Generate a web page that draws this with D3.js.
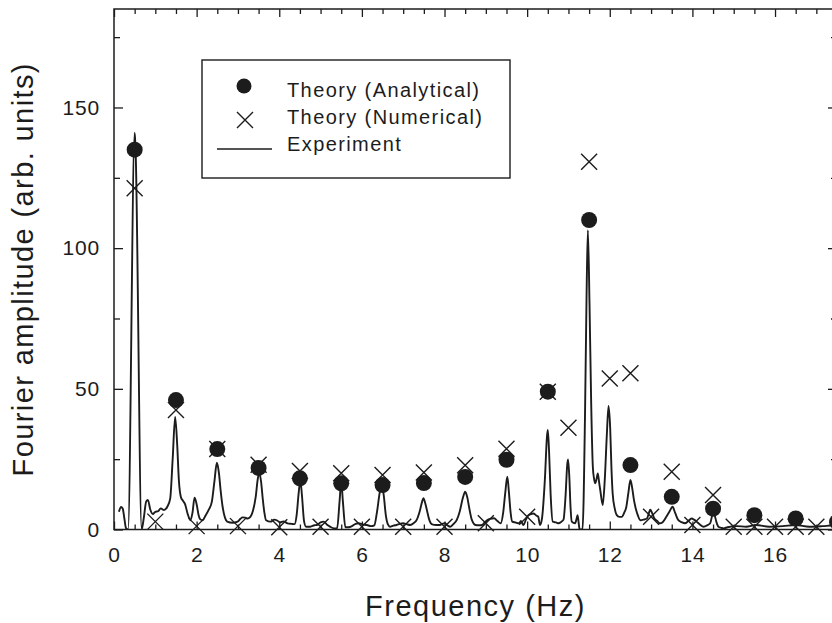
<!DOCTYPE html>
<html>
<head>
<meta charset="utf-8">
<script src="https://cdn.jsdelivr.net/npm/d3@7"></script>
<style>
  html, body { margin: 0; padding: 0; background: #fff; }
  svg { display: block; font-family: "Liberation Sans", Arial, Helvetica, sans-serif; }
</style>
</head>
<body>
<svg id="chart" width="832" height="623"></svg>
<script>
// ---------------- data ----------------
const analyticalFreq = [0.5, 1.5, 2.5, 3.5, 4.5, 5.5, 6.5, 7.5, 8.5, 9.5, 10.5, 11.5, 12.5, 13.5, 14.5, 15.5, 16.5, 17.5];
const analyticalAmp  = [135, 46, 28.6, 21.9, 18.2, 16.4, 15.8, 16.5, 18.7, 24.8, 49, 110, 22.9, 11.6, 7.4, 5.1, 3.9, 2.7];

const numericalFreq = [0.5, 1, 1.5, 2, 2.5, 3, 3.5, 4, 4.5, 5, 5.5, 6, 6.5, 7, 7.5, 8, 8.5, 9, 9.5, 10, 10.5, 11, 11.5, 12, 12.5, 13, 13.5, 14, 14.5, 15, 15.5, 16, 16.5, 17];
const numericalAmp  = [121.3, 2.8, 42.5, 1.2, 28.6, 1.2, 23, 0.8, 20.8, 1, 20, 1, 19.4, 1, 20.3, 1, 22.8, 2.2, 28.7, 4.5, 49, 36.2, 130.7, 53.7, 55.5, 4.5, 20.5, 1.6, 12.3, 1, 1, 1, 1, 1];

const expFreq = [0.12, 0.17, 0.21, 0.25, 0.29, 0.34, 0.50, 0.52, 0.67, 0.72, 0.78, 0.82, 0.88, 0.94, 1.00, 1.07, 1.13, 1.21, 1.29, 1.36, 1.42, 1.48, 1.53, 1.57, 1.62, 1.67, 1.72, 1.78, 1.85, 1.90, 1.95, 2.00, 2.05, 2.09, 2.14, 2.22, 2.30, 2.37, 2.43, 2.49, 2.54, 2.58, 2.63, 2.68, 2.74, 2.87, 2.99, 3.06, 3.11, 3.18, 3.23, 3.30, 3.36, 3.43, 3.48, 3.52, 3.56, 3.60, 3.64, 3.68, 3.79, 3.88, 3.95, 4.02, 4.10, 4.20, 4.30, 4.37, 4.42, 4.47, 4.51, 4.55, 4.60, 4.65, 4.75, 4.85, 4.91, 5.00, 5.07, 5.15, 5.23, 5.33, 5.40, 5.46, 5.50, 5.54, 5.60, 5.68, 5.76, 5.85, 5.92, 6.02, 6.12, 6.22, 6.30, 6.36, 6.43, 6.48, 6.53, 6.58, 6.63, 6.68, 6.76, 6.84, 6.92, 7.00, 7.08, 7.17, 7.25, 7.33, 7.40, 7.46, 7.49, 7.53, 7.58, 7.63, 7.70, 7.80, 7.89, 7.96, 8.01, 8.07, 8.14, 8.22, 8.30, 8.37, 8.44, 8.50, 8.55, 8.60, 8.66, 8.75, 8.83, 8.91, 8.97, 9.03, 9.10, 9.20, 9.28, 9.36, 9.42, 9.47, 9.52, 9.56, 9.60, 9.64, 9.72, 9.80, 9.85, 9.91, 9.97, 10.03, 10.10, 10.15, 10.22, 10.27, 10.31, 10.36, 10.43, 10.48, 10.50, 10.53, 10.57, 10.62, 10.70, 10.76, 10.83, 10.88, 10.93, 10.97, 10.99, 11.02, 11.05, 11.08, 11.16, 11.20, 11.22, 11.25, 11.27, 11.34, 11.40, 11.44, 11.47, 11.51, 11.55, 11.59, 11.62, 11.65, 11.68, 11.71, 11.74, 11.77, 11.83, 11.88, 11.93, 11.97, 12.01, 12.04, 12.07, 12.12, 12.17, 12.23, 12.29, 12.35, 12.40, 12.45, 12.50, 12.54, 12.58, 12.62, 12.68, 12.74, 12.82, 12.90, 12.95, 12.98, 13.02, 13.08, 13.15, 13.21, 13.28, 13.37, 13.45, 13.52, 13.58, 13.66, 13.74, 13.82, 13.90, 13.98, 14.04, 14.10, 14.18, 14.27, 14.36, 14.43, 14.47, 14.51, 14.55, 14.60, 14.63, 14.70, 14.75, 14.85, 15.07, 15.30, 15.54, 15.86, 16.19, 16.50, 16.83, 17.15, 17.35, 17.50];
const expAmp  = [6.3, 8.0, 7.5, 4.0, 0.5, 0, 141, 136, 0, 4, 10, 10.5, 7, 5.5, 6.3, 6.5, 7.5, 6.9, 8.1, 11, 25, 40, 30, 17.6, 11.5, 10.2, 9, 5.7, 3.3, 6, 11.3, 9, 5, 3.6, 3.3, 5.1, 7.2, 10, 17, 23.7, 20, 14, 8, 4.5, 2.8, 2.4, 2.8, 3.8, 4.3, 4.2, 3.9, 4.5, 6.5, 11.6, 18, 20, 17, 11, 6, 3.3, 2.8, 3.5, 3.2, 2.5, 2.9, 2.2, 2.0, 1.9, 5, 13, 17.5, 12, 3, 1, 1.0, 1.5, 1.6, 2.5, 2.8, 1.8, 1, 0.4, 0.4, 10, 17, 10, 0.8, 0.8, 1.2, 2, 2.2, 1.8, 1.6, 1.2, 1.5, 5.7, 13, 16.5, 12, 5, 1.8, 1, 1.4, 1.6, 2, 2.2, 1.9, 1.6, 2.2, 3.5, 6.5, 10, 11.1, 9.5, 6.5, 3.5, 1.8, 1.6, 1.6, 2.1, 2.2, 1.5, 1, 2, 3.5, 6.5, 11, 13.4, 11.5, 7.5, 3.5, 1.6, 1.5, 1.6, 2.5, 3.3, 3.8, 4, 3, 2.2, 6, 13, 18.8, 13, 6, 2.8, 2.5, 2.2, 3, 1.6, 3.5, 5.1, 5.5, 5.7, 5, 4.5, 1.6, 4, 18, 33, 35.4, 28, 12, 2.8, 2.5, 2.2, 2.8, 3.5, 12, 23, 24.9, 19, 8, 2.8, 2.2, 4, 5.1, 2, 0, 0, 40, 85, 106.4, 80, 45, 22.3, 18, 16.4, 18, 19.9, 17, 14, 8.7, 18, 34, 43.9, 36, 22, 12.8, 7.5, 5.1, 4.5, 4.5, 6, 8, 13, 17.6, 15, 11, 8, 5, 3.3, 3.5, 3.9, 6, 7, 6, 3.9, 3, 2.2, 2.6, 4.5, 6.5, 8.1, 6, 3.3, 2.6, 2.2, 3, 3.9, 3.5, 2.8, 1.8, 1, 1.5, 2.2, 4.5, 7.5, 4.5, 1.8, 1, 0.6, 0.4, 0.8, 1.2, 1, 1.6, 1, 1.2, 1.6, 1, 1.2, 1.4, 1.5];

const xMajorTicks = [0, 2, 4, 6, 8, 10, 12, 14, 16];
const xTickLabels = ["0", "2", "4", "6", "8", "10", "12", "14", "16"];
const xMinorTicks = [0.5, 1, 1.5, 2.5, 3, 3.5, 4.5, 5, 5.5, 6.5, 7, 7.5, 8.5, 9, 9.5, 10.5, 11, 11.5, 12.5, 13, 13.5, 14.5, 15, 15.5, 16.5, 17];
const yMajorTicks = [0, 50, 100, 150];
const yTickLabels = ["0", "50", "100", "150"];
const yMinorTicks = [25, 75, 125, 175];

const legendLabels = ["Theory (Analytical)", "Theory (Numerical)", "Experiment"];
const xTitle = "Frequency (Hz)";
const yTitle = "Fourier amplitude (arb. units)";

// ---------------- layout ----------------
const svg = d3.select("#chart");
const L = 114, R = 837, T = 9, B = 529.5;
const x = d3.scaleLinear().domain([0, 17.5]).range([L, R]);
const y = d3.scaleLinear().domain([0, 185]).range([B, T]);
const ink = "#1c1c1c";

const defs = svg.append("defs");
defs.append("clipPath").attr("id", "plotclip")
  .append("rect").attr("x", L).attr("y", T).attr("width", R - L).attr("height", B - T);

// ---------------- axes ----------------
function styleAxis(g) {
  g.select(".domain").remove();
  g.selectAll(".tick line").attr("stroke", ink).attr("stroke-width", 1.3);
  g.selectAll(".tick text").attr("fill", ink).attr("font-size", 21).attr("letter-spacing", "0.8px")
    .attr("font-family", "'Liberation Sans', Arial, sans-serif");
}
// bottom
svg.append("g").attr("transform", `translate(0,${B})`)
  .call(d3.axisBottom(x).tickValues(xMajorTicks).tickSizeInner(-8).tickSizeOuter(0).tickPadding(18)
    .tickFormat((d, i) => xTickLabels[i]))
  .call(styleAxis);
svg.append("g").attr("transform", `translate(0,${B})`)
  .call(d3.axisBottom(x).tickValues(xMinorTicks).tickSizeInner(-5).tickSizeOuter(0).tickFormat(""))
  .call(styleAxis);
// top
svg.append("g").attr("transform", `translate(0,${T})`)
  .call(d3.axisTop(x).tickValues(xMajorTicks).tickSizeInner(-8).tickSizeOuter(0).tickFormat(""))
  .call(styleAxis);
svg.append("g").attr("transform", `translate(0,${T})`)
  .call(d3.axisTop(x).tickValues(xMinorTicks).tickSizeInner(-5).tickSizeOuter(0).tickFormat(""))
  .call(styleAxis);
// left
svg.append("g").attr("transform", `translate(${L},0)`)
  .call(d3.axisLeft(y).tickValues(yMajorTicks).tickSizeInner(-9).tickSizeOuter(0).tickPadding(14)
    .tickFormat((d, i) => yTickLabels[i]))
  .call(styleAxis);
svg.append("g").attr("transform", `translate(${L},0)`)
  .call(d3.axisLeft(y).tickValues(yMinorTicks).tickSizeInner(-6).tickSizeOuter(0).tickFormat(""))
  .call(styleAxis);
// right
svg.append("g").attr("transform", `translate(${R},0)`)
  .call(d3.axisRight(y).tickValues(yMajorTicks).tickSizeInner(-9).tickSizeOuter(0).tickFormat(""))
  .call(styleAxis);
svg.append("g").attr("transform", `translate(${R},0)`)
  .call(d3.axisRight(y).tickValues(yMinorTicks).tickSizeInner(-6).tickSizeOuter(0).tickFormat(""))
  .call(styleAxis);

// frame
svg.append("rect").attr("x", L).attr("y", T).attr("width", R - L).attr("height", B - T)
  .attr("fill", "none").attr("stroke", ink).attr("stroke-width", 1.5);

// ---------------- marks ----------------
const plot = svg.append("g").attr("clip-path", "url(#plotclip)");

const expData = expFreq.map((f, i) => [f, expAmp[i]]);
plot.append("path").datum(expData)
  .attr("fill", "none").attr("stroke", ink).attr("stroke-width", 1.9).attr("stroke-linejoin", "round")
  .attr("d", d3.line().x(d => x(d[0])).y(d => y(d[1])).curve(d3.curveMonotoneX));

const cs = 8; // cross half-size
function crossPath(cx, cy, s) {
  return `M${cx - s},${cy - s}L${cx + s},${cy + s}M${cx - s},${cy + s}L${cx + s},${cy - s}`;
}
svg.append("g").selectAll("path").data(numericalFreq.map((f, i) => [f, numericalAmp[i]]))
  .join("path")
  .attr("d", d => crossPath(x(d[0]), y(d[1]), cs))
  .attr("stroke", ink).attr("stroke-width", 1.4).attr("fill", "none");

svg.append("g").selectAll("circle").data(analyticalFreq.map((f, i) => [f, analyticalAmp[i]]))
  .join("circle")
  .attr("cx", d => x(d[0])).attr("cy", d => y(d[1])).attr("r", 8)
  .attr("fill", ink);

// ---------------- legend ----------------
const lg = svg.append("g");
lg.append("rect").attr("x", 202).attr("y", 60).attr("width", 308).attr("height", 118)
  .attr("fill", "#fff").attr("stroke", ink).attr("stroke-width", 1.4);
lg.append("circle").attr("cx", 244).attr("cy", 86).attr("r", 7.5).attr("fill", ink);
lg.append("path").attr("d", crossPath(245, 120, 8)).attr("stroke", ink).attr("stroke-width", 1.4);
lg.append("line").attr("x1", 217).attr("x2", 272).attr("y1", 149).attr("y2", 149)
  .attr("stroke", ink).attr("stroke-width", 1.4);
const lgBase = [97, 124, 151];
lg.selectAll("text.lt").data(legendLabels).join("text").attr("class", "lt")
  .attr("x", 287).attr("y", (d, i) => lgBase[i])
  .attr("font-size", 20).attr("letter-spacing", "1.4px").attr("fill", ink)
  .text(d => d);

// ---------------- titles ----------------
svg.append("text").attr("x", (L + R) / 2).attr("y", 616).attr("text-anchor", "middle")
  .attr("font-size", 29).attr("letter-spacing", "1.5px").attr("fill", ink).text(xTitle);
svg.append("text").attr("transform", `translate(33,${(T + B) / 2}) rotate(-90)`).attr("text-anchor", "middle")
  .attr("font-size", 29).attr("letter-spacing", "1.4px").attr("fill", ink).text(yTitle);
</script>
</body>
</html>
